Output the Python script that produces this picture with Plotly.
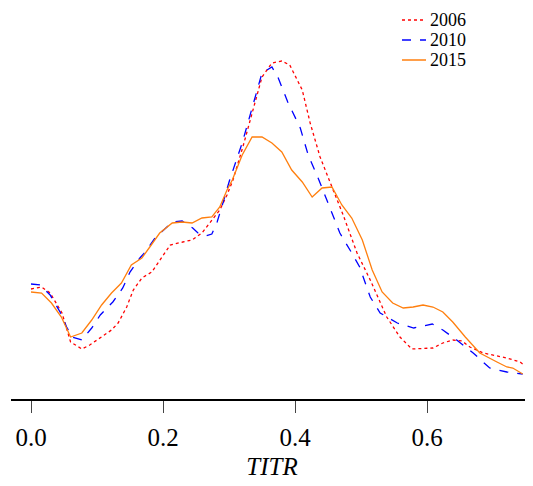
import plotly.graph_objects as go

# Series data (TITR value, density-like height)
x_2006 = [0.000, 0.016, 0.029, 0.047, 0.060, 0.077, 0.089, 0.105, 0.122, 0.132, 0.145, 0.155,
          0.168, 0.183, 0.195, 0.211, 0.230, 0.244, 0.259, 0.271, 0.286, 0.297, 0.306, 0.321,
          0.336, 0.350, 0.365, 0.380, 0.392, 0.411, 0.423, 0.438, 0.456, 0.473, 0.494, 0.514,
          0.539, 0.559, 0.577, 0.609, 0.624, 0.639, 0.653, 0.665, 0.685, 0.721, 0.741, 0.745]
y_2006 = [1.10, 1.12, 1.06, 0.86, 0.57, 0.50, 0.54, 0.61, 0.69, 0.76, 0.92, 1.09,
          1.21, 1.27, 1.39, 1.54, 1.57, 1.59, 1.66, 1.76, 1.89, 2.04, 2.19, 2.52,
          2.87, 3.22, 3.36, 3.38, 3.34, 3.09, 2.76, 2.42, 2.12, 1.84, 1.46, 1.19,
          0.82, 0.62, 0.50, 0.51, 0.56, 0.59, 0.58, 0.52, 0.46, 0.41, 0.37, 0.35]

x_2010 = [0.000, 0.014, 0.029, 0.044, 0.054, 0.062, 0.077, 0.092, 0.105, 0.124, 0.139, 0.150,
          0.165, 0.173, 0.188, 0.214, 0.229, 0.245, 0.253, 0.264, 0.274, 0.282, 0.289, 0.301,
          0.320, 0.336, 0.350, 0.365, 0.374, 0.389, 0.408, 0.420, 0.435, 0.450, 0.468, 0.486,
          0.498, 0.514, 0.529, 0.555, 0.580, 0.608, 0.624, 0.645, 0.670, 0.695, 0.721, 0.745]
y_2010 = [1.15, 1.14, 1.04, 0.87, 0.72, 0.62, 0.59, 0.71, 0.84, 0.97, 1.11, 1.27,
          1.41, 1.47, 1.61, 1.77, 1.78, 1.71, 1.66, 1.63, 1.65, 1.77, 1.92, 2.19,
          2.56, 2.92, 3.26, 3.32, 3.22, 2.97, 2.71, 2.44, 2.21, 1.96, 1.66, 1.46,
          1.32, 1.02, 0.86, 0.76, 0.71, 0.75, 0.69, 0.59, 0.46, 0.31, 0.27, 0.25]

x_2015 = [0.000, 0.016, 0.031, 0.046, 0.060, 0.077, 0.092, 0.107, 0.122, 0.137, 0.152, 0.168,
          0.180, 0.195, 0.214, 0.229, 0.244, 0.259, 0.274, 0.286, 0.297, 0.305, 0.320, 0.335,
          0.350, 0.365, 0.380, 0.395, 0.411, 0.426, 0.441, 0.456, 0.471, 0.486, 0.502, 0.517,
          0.532, 0.548, 0.564, 0.579, 0.594, 0.609, 0.624, 0.639, 0.658, 0.680, 0.706, 0.721,
          0.730, 0.745]
y_2015 = [1.07, 1.06, 0.96, 0.82, 0.62, 0.66, 0.79, 0.94, 1.06, 1.16, 1.34, 1.41,
          1.52, 1.66, 1.76, 1.77, 1.76, 1.81, 1.82, 1.92, 2.09, 2.19, 2.44, 2.62,
          2.62, 2.56, 2.47, 2.29, 2.17, 2.02, 2.11, 2.12, 1.94, 1.81, 1.59, 1.29,
          1.07, 0.96, 0.91, 0.92, 0.94, 0.92, 0.87, 0.77, 0.62, 0.46, 0.37, 0.32,
          0.31, 0.25]

series_names = ["2006", "2010", "2015"]
series_colors = ["#ff0000", "#0000ff", "#ff7f0e"]
series_dashes = ["dot", "dash", "solid"]

tick_vals = [0.0, 0.2, 0.4, 0.6]
tick_text = ["0.0", "0.2", "0.4", "0.6"]

font_family = "Liberation Serif, DejaVu Serif, serif"

# page has an 8px body margin, so the figure is sized to fill the rest of the window
OFF = 8
W, H = 533 - OFF, 486 - OFF
M_L, M_R, M_T, M_B = 3, 0, 2, 87

fig = go.Figure()
for xs, ys, name, col, dash in zip([x_2006, x_2010, x_2015], [y_2006, y_2010, y_2015],
                                   series_names, series_colors, series_dashes):
    fig.add_trace(go.Scatter(x=xs, y=ys, mode="lines", name=name,
                             line=dict(color=col, width=1.3, dash=dash)))

# compact legend drawn as shapes + text (paper coordinates)
pw, ph = W - M_L - M_R, H - M_T - M_B
def px_to_paper_x(px):
    return (px - OFF - M_L) / pw
def py_to_paper_y(py):
    return (H - M_B - (py - OFF)) / ph

row_y = [20, 40, 60]
for i, (name, col, dash) in enumerate(zip(series_names, series_colors, series_dashes)):
    yy = py_to_paper_y(row_y[i])
    fig.add_shape(type="line", xref="paper", yref="paper",
                  x0=px_to_paper_x(402), x1=px_to_paper_x(426), y0=yy, y1=yy,
                  line=dict(color=col, width=1.5, dash=dash))
    fig.add_annotation(xref="paper", yref="paper", x=px_to_paper_x(429), y=yy,
                       text=name, showarrow=False, xanchor="left", yanchor="middle",
                       borderpad=0,
                       font=dict(size=18, family=font_family, color="black"))

fig.update_layout(
    width=W, height=H,
    margin=dict(l=M_L, r=M_R, t=M_T, b=M_B, autoexpand=False),
    paper_bgcolor="white", plot_bgcolor="white",
    font=dict(family=font_family, color="black"),
    showlegend=False,
    xaxis=dict(range=[-0.0303, 0.7606], tickvals=tick_vals, ticktext=tick_text,
               automargin=False,
               showgrid=False, zeroline=False, showline=True, linecolor="black",
               linewidth=1.5, ticks="outside", ticklen=12, tickcolor="#444",
               tickwidth=1, ticklabelstandoff=3,
               tickfont=dict(size=25, family=font_family),
               title=dict(text="<i>TITR</i>", font=dict(size=25, family=font_family),
                          standoff=8)),
    yaxis=dict(range=[0, 3.89], visible=False, showgrid=False, zeroline=False),
)

fig.write_html("out.html")
